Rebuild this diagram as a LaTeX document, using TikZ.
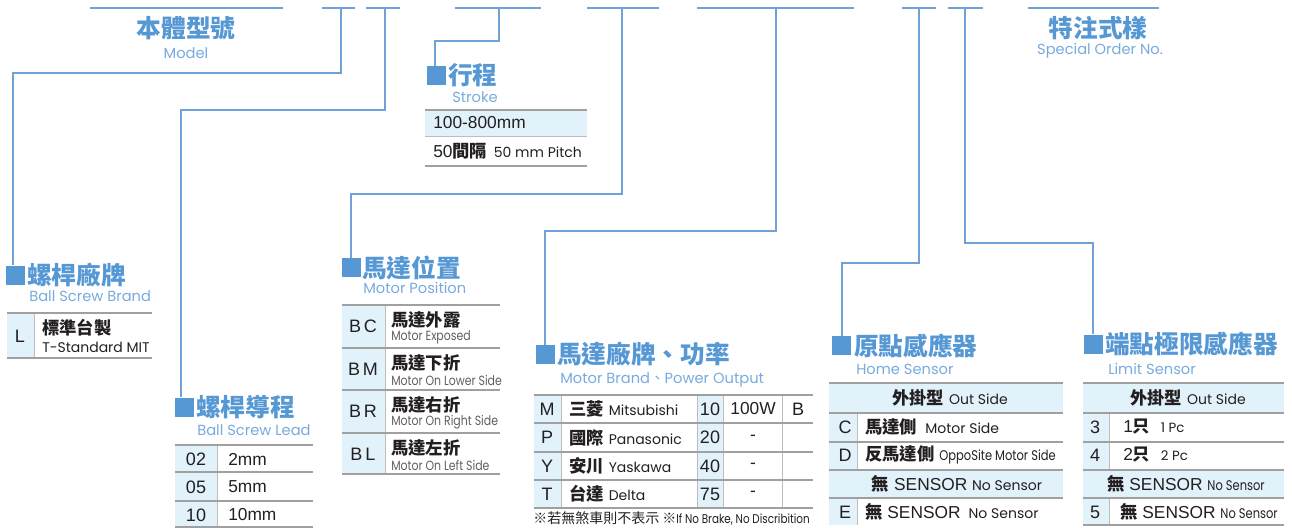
\documentclass[tikz,border=0pt]{standalone}
\usepackage{fontspec}
\setmainfont{Liberation Sans}
\newfontfamily\zhfont{Noto Sans CJK TC}
\newfontfamily\geo{Poppins}
\newfontfamily\geonarrow{Poppins}[FakeStretch=0.82]

\definecolor{titleblue}{RGB}{86,152,212}
\definecolor{subblue}{RGB}{120,170,222}
\definecolor{linkblue}{RGB}{112,162,216}
\definecolor{cellblue}{RGB}{225,242,251}
\definecolor{rulegray}{RGB}{160,160,160}
\definecolor{ink}{RGB}{35,31,32}
\definecolor{dimgray}{RGB}{95,95,95}

\newcommand\zh[1]{{\zhfont\bfseries #1}}
\newcommand\entxt[1]{{\geo\fontsize{10.5}{12}\selectfont #1}}

\tikzset{
  leader/.style={draw=linkblue, line width=1pt},
  rowrule/.style={draw=rulegray, line width=1.1pt},
  colrule/.style={draw=rulegray!70, line width=0.7pt},
  hdr/.style={font=\zhfont\bfseries\fontsize{18.5}{20}\selectfont, text=titleblue, inner sep=0pt},
  hsub/.style={font=\geo\fontsize{11}{12}\selectfont, text=subblue, inner sep=0pt},
  sqbox/.style={fill=titleblue, minimum size=14.25pt, inner sep=0pt},
  cell/.style={font=\fontsize{13}{15}\selectfont, text=ink, inner sep=0pt},
  codecell/.style={font=\fontsize{13.5}{15}\selectfont, text=ink, inner sep=0pt},
  ensmall/.style={font=\geonarrow\fontsize{10}{11}\selectfont, text=dimgray, inner sep=0pt, anchor=west},
}

\begin{document}
\begin{tikzpicture}[x=0.75pt,y=-0.75pt]
  \useasboundingbox (0,0) rectangle (1292,528);

  % top bars
  \foreach \a/\b in {90/283,322/355,366/400,455/541,587/659,697/854,902/936,948/983,1028/1159}
    \draw[leader] (\a,8) -- (\b,8);
  \node[hdr] (model) at (186,28) {本體型號};
  \node[hsub] (modelen) at (186,53) {Model};
  \node[hdr] (special) at (1098,28) {特注式樣};
  \node[hsub] (specialen) at (1100,51) {Special Order No.};

  \coordinate (tapA) at (341,8);  \coordinate (bendA) at (13,73);
  \coordinate (tapB) at (385,8);  \coordinate (bendB) at (181,110);
  \coordinate (tapC) at (499,8);  \coordinate (bendC) at (435,41);
  \coordinate (tapD) at (622,8);  \coordinate (bendD) at (351,194);
  \coordinate (tapE) at (776,8);  \coordinate (bendE) at (545,231);
  \coordinate (tapF) at (919,8);  \coordinate (bendF) at (842,263);
  \coordinate (tapG) at (965,8);  \coordinate (bendG) at (1093,243);

  % ball screw brand
  \node[sqbox] (sqA) at (15.5,275) {};
  \node[hdr, anchor=west] (brand) at (27,275) {螺桿廠牌};
  \node[hsub, anchor=west] (branden) at (29,296) {Ball Screw Brand};
  \draw[leader] (tapA) |- (bendA) -- (bendA |- sqA.north);
  \fill[cellblue] (7,313) rectangle (34,358);
  \draw[colrule] (34,313) -- (34,358);
  \draw[rowrule] (7,313) -- (152,313) (7,358) -- (152,358);
  \node[codecell] (brL) at (20,336) {L};
  \node[cell, anchor=west] (brLzh) at (42,328) {\zh{標準台製}};
  \node[cell, anchor=west, font=\geo\fontsize{10.5}{12}\selectfont] (brLen) at (42,347) {T-Standard MIT};

  % ball screw lead
  \node[sqbox] (sqB) at (184.5,407) {};
  \node[hdr, anchor=west] (lead) at (196,407) {螺桿導程};
  \node[hsub, anchor=west] (leaden) at (197,430) {Ball Screw Lead};
  \draw[leader] (tapB) |- (bendB) -- (bendB |- sqB.north);
  \fill[cellblue] (175,445) rectangle (217,527);
  \draw[colrule] (217,445) -- (217,527);
  \foreach \y in {445,472,501,527} \draw[rowrule] (175,\y) -- (313,\y);
  \foreach \c/\v/\y [count=\i] in {02/2mm/459, 05/5mm/487, 10/10mm/515} {
    \node[codecell] (ld\i) at (196,\y) {\c};
    \node[cell, anchor=west] (ldv\i) at (228,\y) {\v};
  }

  % stroke
  \node[sqbox] (sqC) at (436.5,75.5) {};
  \node[hdr, anchor=west] (stroke) at (448,75.5) {行程};
  \node[hsub, anchor=west] (strokeen) at (452,97) {Stroke};
  \draw[leader] (tapC) |- (bendC) -- (bendC |- sqC.north);
  \fill[cellblue] (425,110) rectangle (587,136);
  \draw[rowrule] (425,110) -- (587,110) (425,166) -- (587,166);
  \draw[colrule] (425,136) -- (587,136);
  \node[cell, anchor=west] (st1) at (433,123) {100-800mm};
  \node[cell, anchor=west] (st2) at (433,151) {50\zh{間隔}\hspace{5pt}\entxt{50 mm Pitch}};

  % motor position
  \node[sqbox] (sqD) at (351.5,267.5) {};
  \node[hdr, anchor=west] (pos) at (362,267.5) {馬達位置};
  \node[hsub, anchor=west] (posen) at (363,288) {Motor Position};
  \draw[leader] (tapD) |- (bendD) -- (bendD |- sqD.north);
  \fill[cellblue] (342,305) rectangle (385,474);
  \draw[colrule] (385,305) -- (385,474);
  \foreach \y in {305,348,390,433,474} \draw[rowrule] (342,\y) -- (500,\y);
  \foreach \c/\z/\e/\y [count=\i] in {B\,C/馬達外露/Motor Exposed/305,
      B\,M/馬達下折/Motor On Lower Side/348,
      B\,R/馬達右折/Motor On Right Side/390,
      B\,L/馬達左折/Motor On Left Side/433} {
    \node[codecell] (ps\i) at (363,\y+21) {\c};
    \node[cell, anchor=west] (psz\i) at (391,\y+15) {\zh{\z}};
    \node[ensmall] (pse\i) at (391,\y+32) {\e};
  }

  % motor brand, power
  \node[sqbox] (sqE) at (545.5,354.5) {};
  \node[hdr, anchor=west] (motor) at (557,354.5) {馬達廠牌、功率};
  \node[hsub, anchor=west] (motoren) at (560,380) {Motor Brand{\zhfont 、}Power Output};
  \draw[leader] (tapE) |- (bendE) -- (bendE |- sqE.north);
  \fill[cellblue] (534,395) rectangle (561,508);
  \fill[cellblue] (697,395) rectangle (723,508);
  \foreach \x in {561,697,723,782} \draw[colrule] (\x,395) -- (\x,508);
  \foreach \y in {395,423,452,480,508} \draw[rowrule] (534,\y) -- (813,\y);
  \foreach \c/\z/\e/\n/\w/\y [count=\i] in {M/三菱/Mitsubishi/10/100W/409,
      P/國際/Panasonic/20/-/437.5, Y/安川/Yaskawa/40/-/466, T/台達/Delta/75/-/494} {
    \node[codecell] (mb\i) at (547,\y) {\c};
    \node[cell, anchor=west] (mbn\i) at (569,\y) {\zh{\z} \entxt{\e}};
    \node[codecell] (mp\i) at (710,\y) {\n};
    \node[cell] (mw\i) at (753,\y) {\w};
  }
  \node[codecell] (brake) at (798,409) {B};
  \node[cell, anchor=west, font=\fontsize{10.5}{12}\selectfont] (note) at (533,518.5)
    {{\zhfont ※若無煞車則不表示 ※}{\geonarrow\fontsize{9.5}{11}\selectfont If No Brake, No Discribition}};

  % home sensor
  \node[sqbox] (sqF) at (841,345.5) {};
  \node[hdr, anchor=west] (home) at (854,345.5) {原點感應器};
  \node[hsub, anchor=west] (homeen) at (856,369) {Home Sensor};
  \draw[leader] (tapF) |- (bendF) -- (bendF |- sqF.north);
  \fill[cellblue] (829,383) rectangle (1063,413);
  \fill[cellblue] (829,470) rectangle (1063,498);
  \fill[cellblue] (829,413) rectangle (857,470);
  \fill[cellblue] (829,498) rectangle (857,525);
  \draw[colrule] (857,413) -- (857,470) (857,498) -- (857,525);
  \foreach \y in {383,413,442,470,498} \draw[rowrule] (829,\y) -- (1063,\y);
  \node[cell] (hmHead) at (950,398) {\zh{外掛型} \entxt{Out Side}};
  \node[codecell] (hmC) at (845,427) {C};
  \node[cell, anchor=west] (hmCv) at (865,427) {\zh{馬達側}\hspace{6pt}\entxt{Motor Side}};
  \node[codecell] (hmD) at (845,455) {D};
  \node[cell, anchor=west] (hmDv) at (865,455) {\zh{反馬達側} {\geonarrow\fontsize{10.5}{11}\selectfont OppoSite Motor Side}};
  \node[cell] (hmNone) at (957,484) {\zh{無} SENSOR \entxt{No Sensor}};
  \node[codecell] (hmE) at (845,512) {E};
  \node[cell, anchor=west] (hmEv) at (865,512) {\zh{無} SENSOR\hspace{6pt}\entxt{No Sensor}};

  % limit sensor
  \node[sqbox] (sqG) at (1093,344) {};
  \node[hdr, anchor=west] (limit) at (1105,344) {端點極限感應器};
  \node[hsub, anchor=west] (limiten) at (1108,369) {Limit Sensor};
  \draw[leader] (tapG) |- (bendG) -- (bendG |- sqG.north);
  \fill[cellblue] (1083,383) rectangle (1284,413);
  \fill[cellblue] (1083,470) rectangle (1284,498);
  \fill[cellblue] (1083,413) rectangle (1109,470);
  \fill[cellblue] (1083,498) rectangle (1109,525);
  \draw[colrule] (1109,413) -- (1109,470) (1109,498) -- (1109,525);
  \foreach \y in {383,413,442,470,498,525} \draw[rowrule] (1083,\y) -- (1284,\y);
  \node[cell] (lmHead) at (1188,398) {\zh{外掛型} \entxt{Out Side}};
  \node[codecell] (lm3) at (1095,427) {3};
  \node[cell, anchor=west] (lm3v) at (1123,427) {1\zh{只}\hspace{8pt}{\geo\fontsize{10}{11}\selectfont 1 Pc}};
  \node[codecell] (lm4) at (1095,455) {4};
  \node[cell, anchor=west] (lm4v) at (1123,455) {2\zh{只}\hspace{8pt}{\geo\fontsize{10}{11}\selectfont 2 Pc}};
  \node[cell] (lmNone) at (1186,484) {\zh{無} SENSOR {\geonarrow\fontsize{10.5}{12}\selectfont No Sensor}};
  \node[codecell] (lm5) at (1095,512) {5};
  \node[cell, anchor=west] (lm5v) at (1120,512) {\zh{無} SENSOR {\geonarrow\fontsize{10.5}{12}\selectfont No Sensor}};
\end{tikzpicture}
\end{document}
